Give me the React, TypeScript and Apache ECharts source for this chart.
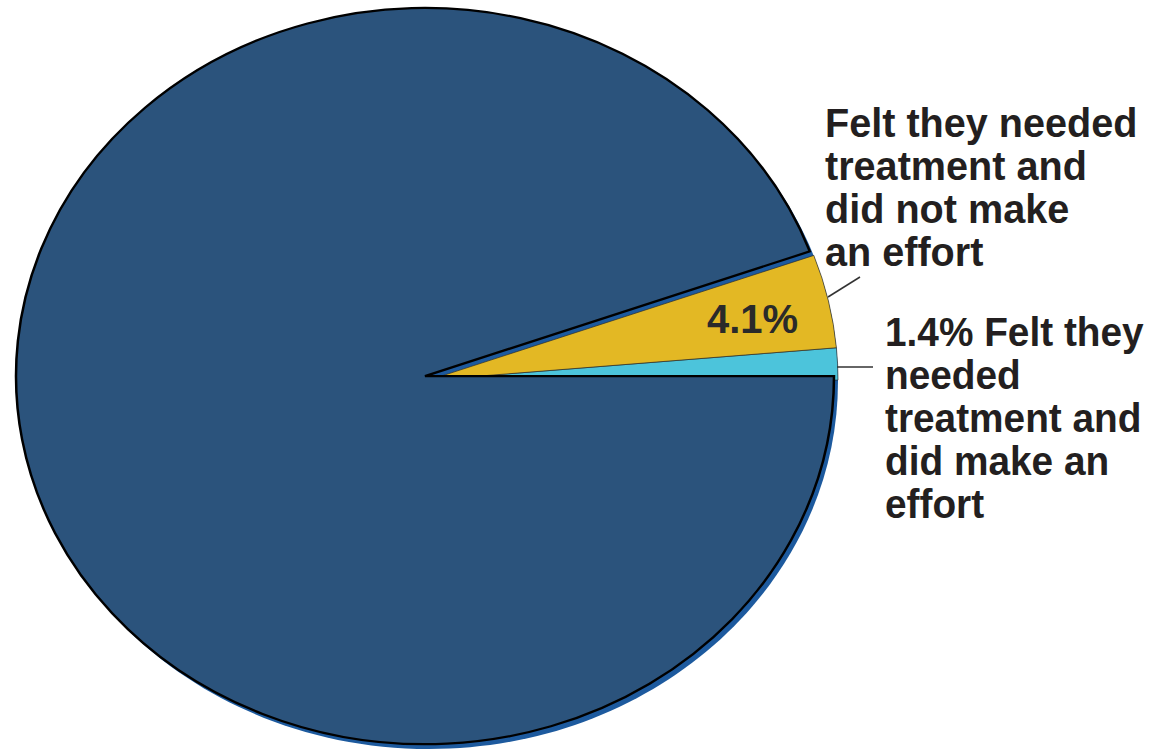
import React, { useEffect, useRef } from "react";
import * as echarts from "echarts";

const categories = [
  "Felt they needed treatment and did make an effort",
  "Felt they needed treatment and did not make an effort",
  "Did not feel they needed treatment",
];
const values = [1.4, 4.1, 94.5];
const colors = ["#4cc4db", "#e3b824", "#2b537c"];
const pctLabels = ["", "4.1%", ""];
const labelTexts = [
  "1.4% Felt they\nneeded\ntreatment and\ndid make an\neffort",
  "Felt they needed\ntreatment and\ndid not make\nan effort",
];

const FONT = '"Liberation Sans", Arial, sans-serif';

export default function App() {
  const ref = useRef<HTMLDivElement>(null);
  useEffect(() => {
    document.body.style.margin = "0";
    const chart = echarts.init(ref.current!, null, { renderer: "svg" });
    const CX = 425, CY = 376, RX = 409, RY = 368;
    const total = values.reduce((a, b) => a + b, 0);
    const cum: number[] = [];
    let acc = 0;
    values.forEach((v) => { cum.push(acc); acc += v; });

    const option: any = {
      animation: false,
      graphic: [
        {
          type: "ellipse",
          z: 0,
          shape: { cx: CX + 4, cy: CY + 5, rx: RX, ry: RY },
          style: { fill: "#1d5a9e" },
        },
        {
          type: "line",
          z: 10,
          shape: { x1: 828, y1: 297, x2: 860, y2: 277 },
          style: { stroke: "#333", lineWidth: 1.5 },
        },
        {
          type: "line",
          z: 10,
          shape: { x1: 837, y1: 367, x2: 873, y2: 367 },
          style: { stroke: "#333", lineWidth: 1.5 },
        },
        {
          type: "text",
          z: 10,
          x: 825,
          y: 101,
          scaleX: 0.99,
          style: {
            text: labelTexts[1],
            font: `bold 40px ${FONT}`,
            fill: "#231f20",
            lineHeight: 43,
            verticalAlign: "top",
          },
        },
        {
          type: "text",
          z: 10,
          x: 885,
          y: 310,
          scaleX: 0.97,
          style: {
            text: labelTexts[0],
            font: `bold 40px ${FONT}`,
            fill: "#231f20",
            lineHeight: 43,
            verticalAlign: "top",
          },
        },
      ],
      series: [
        {
          type: "custom",
          coordinateSystem: "none",
          data: values.map((v, i) => ({ name: categories[i], value: v })),
          renderItem: (params: any, api: any) => {
            const i = params.dataIndex;
            const v = api.value(0);
            const a0 = (cum[i] / total) * Math.PI * 2;
            const a1 = ((cum[i] + v) / total) * Math.PI * 2;
            const small = i < 2;
            const dx = small ? 4 : 0;
            const dy = small ? 4 : 0;
            const children: any[] = [
              {
                type: "sector",
                x: dx,
                y: dy,
                originX: CX,
                originY: CY,
                scaleY: RY / RX,
                shape: {
                  cx: CX,
                  cy: CY,
                  r0: 0,
                  r: RX,
                  startAngle: -a1,
                  endAngle: -a0,
                  clockwise: true,
                },
                style: {
                  fill: colors[i],
                  stroke: small ? "rgba(40,40,40,0.7)" : "#000",
                  lineWidth: small ? 1 : 2.5,
                  strokeNoScale: true,
                },
              },
            ];
            if (pctLabels[i]) {
              const mid = (a0 + a1) / 2;
              const rr = 0.81;
              children.push({
                type: "text",
                x: CX + dx + Math.cos(mid) * RX * rr,
                y: CY + dy + 3 - Math.sin(mid) * RY * rr,
                style: {
                  text: pctLabels[i],
                  font: `bold 40px ${FONT}`,
                  fill: "#2a2a2a",
                  align: "center",
                  verticalAlign: "middle",
                },
              });
            }
            return { type: "group", children };
          },
        },
      ],
    };
    chart.setOption(option);
    return () => chart.dispose();
  }, []);
  return <div ref={ref} style={{ width: 1153, height: 752 }} />;
}
